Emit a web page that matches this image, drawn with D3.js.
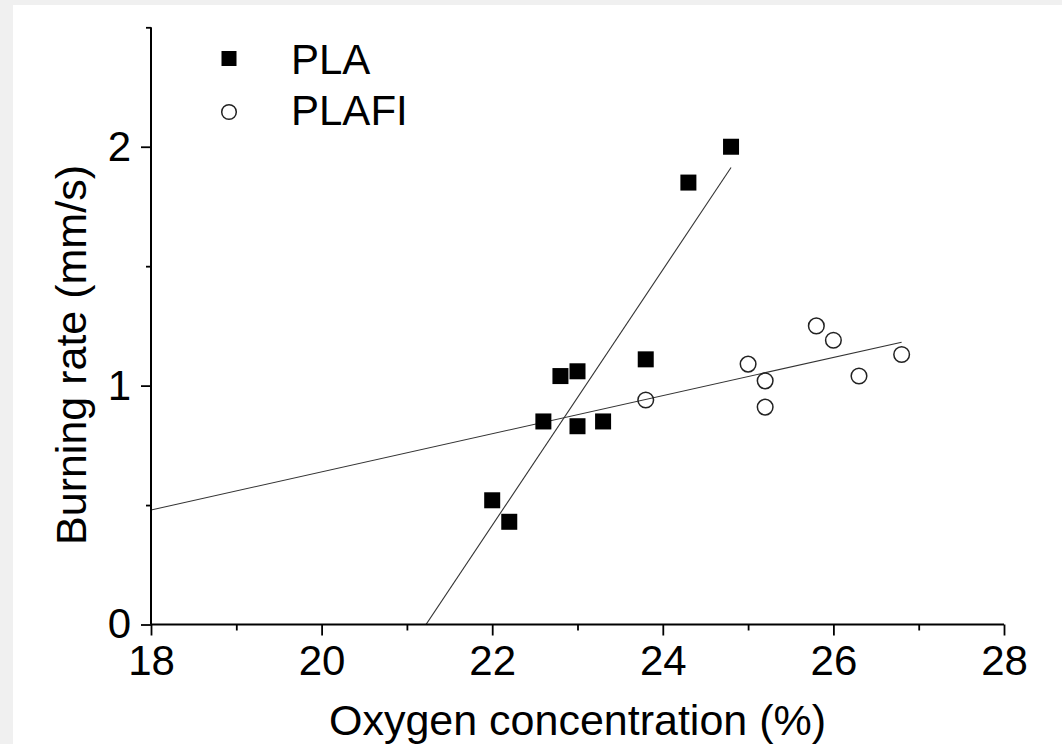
<!DOCTYPE html>
<html>
<head>
<meta charset="utf-8">
<script src="https://cdn.jsdelivr.net/npm/d3@7"></script>
<style>
  html, body { margin: 0; padding: 0; background: #f0f0f0; }
  svg { display: block; }
  text { font-family: "Liberation Sans", Arial, sans-serif; fill: #000; }
</style>
</head>
<body>
<svg id="chart" width="1062" height="744"></svg>
<script>
// ---- Data ----
const plaX = [22.0, 22.2, 22.6, 22.8, 23.0, 23.0, 23.3, 23.8, 24.3, 24.8];
const plaY = [0.52, 0.43, 0.85, 1.04, 1.06, 0.83, 0.85, 1.11, 1.85, 2.00];
const plafiX = [23.8, 25.0, 25.2, 25.2, 25.8, 26.0, 26.3, 26.8];
const plafiY = [0.94, 1.09, 1.02, 0.91, 1.25, 1.19, 1.04, 1.13];
// linear fits: [slope, intercept]
const plaFit = [0.535, -11.355];
const plafiFit = [0.0798, -0.957];
const seriesNames = ["PLA", "PLAFI"];
const xTicks = [18, 20, 22, 24, 26, 28];
const xMinorTicks = [19, 21, 23, 25, 27];
const yTicks = [0, 1, 2];
const yMinorTicks = [0.5, 1.5, 2.5];
const xTitle = "Oxygen concentration (%)";
const yTitle = "Burning rate (mm/s)";

// ---- Layout ----
const svg = d3.select("#chart");
svg.append("rect").attr("x", 13).attr("y", 5).attr("width", 1062 - 13).attr("height", 744 - 5).attr("fill", "#fff");

const x = d3.scaleLinear().domain([18, 28]).range([151, 1004]);
const y = d3.scaleLinear().domain([0, 2.5]).range([624.5, 27.3]);

svg.append("clipPath").attr("id", "plotclip")
  .append("rect").attr("x", x(18)).attr("y", y(2.5)).attr("width", x(28) - x(18)).attr("height", y(0) - y(2.5));

// fit lines
function fitLine(fit, xmax) {
  const pts = [18, xmax].map(v => [x(v), y(fit[0] * v + fit[1])]);
  svg.append("path")
    .attr("d", d3.line()(pts))
    .attr("clip-path", "url(#plotclip)")
    .attr("fill", "none").attr("stroke", "#333").attr("stroke-width", 1.1);
}
fitLine(plaFit, d3.max(plaX));
fitLine(plafiFit, d3.max(plafiX));

// axes
const fontSize = 42;
const xAxis = svg.append("g").attr("transform", `translate(0,${y(0)})`)
  .call(d3.axisBottom(x).tickValues(xTicks).tickSize(11).tickPadding(10).tickFormat(d3.format("d")));
svg.append("g").attr("transform", `translate(0,${y(0)})`)
  .call(d3.axisBottom(x).tickValues(xMinorTicks).tickSize(6).tickFormat(""))
  .select(".domain").remove();
const yAxis = svg.append("g").attr("transform", `translate(${x(18)},0)`)
  .call(d3.axisLeft(y).tickValues(yTicks).tickSize(10).tickPadding(10).tickFormat(d3.format("d")));
svg.append("g").attr("transform", `translate(${x(18)},0)`)
  .call(d3.axisLeft(y).tickValues(yMinorTicks).tickSize(5).tickFormat(""))
  .select(".domain").remove();

svg.selectAll(".domain").attr("stroke", "#000").attr("stroke-width", 2);
svg.selectAll(".tick line").attr("stroke", "#000").attr("stroke-width", 1.8);
svg.selectAll(".tick text").attr("font-size", fontSize).attr("font-family", "'Liberation Sans', Arial, sans-serif").attr("fill", "#000");
xAxis.select(".domain").attr("d", `M${x(18)},0H${x(28)}`);
yAxis.select(".domain").attr("d", `M0,${y(2.5)}V${y(0)}`);

// markers
const sq = 16;
svg.append("g").selectAll("rect").data(plaX.map((v, i) => [v, plaY[i]])).join("rect")
  .attr("x", d => x(d[0]) - sq / 2).attr("y", d => y(d[1]) - sq / 2)
  .attr("width", sq).attr("height", sq).attr("fill", "#000");
svg.append("g").selectAll("circle").data(plafiX.map((v, i) => [v, plafiY[i]])).join("circle")
  .attr("cx", d => x(d[0])).attr("cy", d => y(d[1])).attr("r", 7.8)
  .attr("fill", "none").attr("stroke", "#222").attr("stroke-width", 1.5);

// axis titles
svg.append("text").attr("x", (x(18) + x(28)) / 2).attr("y", 735)
  .attr("text-anchor", "middle").attr("font-size", 43).text(xTitle);
svg.append("text").attr("transform", "translate(86,355) rotate(-90)")
  .attr("text-anchor", "middle").attr("font-size", 43).text(yTitle);

// legend
const leg = svg.append("g");
leg.append("rect").attr("x", 229 - 7.5).attr("y", 58.5 - 7.5).attr("width", 15).attr("height", 15).attr("fill", "#000");
leg.append("circle").attr("cx", 229).attr("cy", 112).attr("r", 7.3).attr("fill", "none").attr("stroke", "#222").attr("stroke-width", 1.5);
leg.append("text").attr("x", 291).attr("y", 73.5).attr("font-size", 42).text(seriesNames[0]);
leg.append("text").attr("x", 291).attr("y", 124.5).attr("font-size", 42).text(seriesNames[1]);
</script>
</body>
</html>
